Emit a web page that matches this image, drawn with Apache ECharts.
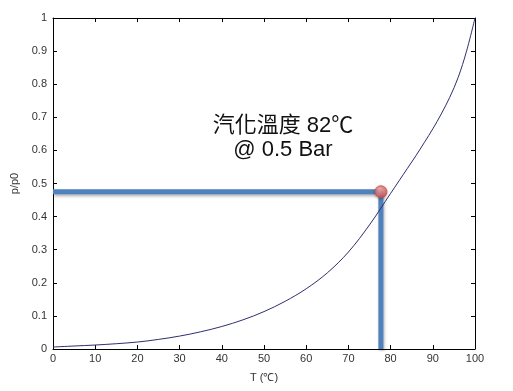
<!DOCTYPE html>
<html><head><meta charset="utf-8">
<script src="https://cdn.jsdelivr.net/npm/echarts@6/dist/echarts.min.js"></script>
<style>html,body{margin:0;padding:0;background:#fff}#c{width:513px;height:391px}</style>
</head><body><div id="c"></div>
<script>
const temps = [0, 5, 10, 15, 20, 25, 30, 35, 40, 45, 50, 55, 60, 65, 70, 75, 80, 82, 84, 86, 88, 90, 92, 94, 96, 98, 100];
const ratio = [0.006, 0.009, 0.012, 0.016, 0.021, 0.029, 0.039, 0.052, 0.068, 0.088, 0.113, 0.144, 0.182, 0.23, 0.293, 0.375, 0.47, 0.508, 0.546, 0.584, 0.624, 0.665, 0.71, 0.76, 0.82, 0.9, 1.0];
const markT = 77.7;
const markP = 0.475;
const labelT = 54.5;
const labelP = 0.637;
const xTicks = [0, 10, 20, 30, 40, 50, 60, 70, 80, 90, 100];
const yTicks = [0, 0.1, 0.2, 0.3, 0.4, 0.5, 0.6, 0.7, 0.8, 0.9, 1];
const titleLine1 = '汽化溫度 82℃';
const titleLine2 = '@ 0.5 Bar';

const chart = echarts.init(document.getElementById('c'));
const font = 'Arial, "Liberation Sans", sans-serif';
const axisCommon = {
  type: 'value', min: 0,
  splitLine: {show: false},
  axisLine: {show: true, onZero: false, lineStyle: {color: '#000', width: 1}},
  axisTick: {show: true, inside: true, length: 4, lineStyle: {color: '#000'}},
};
chart.setOption({
  animation: false,
  grid: {left: 53, right: 38, top: 18, bottom: 42},
  xAxis: [
    Object.assign({}, axisCommon, {max: 100, interval: 10, position: 'bottom',
      name: 'T (℃)', nameLocation: 'middle', nameGap: 23,
      nameTextStyle: {fontFamily: font, fontSize: 11, color: '#333'},
      axisLabel: {fontFamily: font, fontSize: 11, color: '#333', margin: 4,
        formatter: v => xTicks.includes(v) ? String(v) : ''}}),
    Object.assign({}, axisCommon, {max: 100, interval: 10, position: 'top', axisLabel: {show: false}})
  ],
  yAxis: [
    Object.assign({}, axisCommon, {max: 1, interval: 0.1, position: 'left',
      name: 'p/p0', nameLocation: 'middle', nameGap: 28, nameRotate: 90,
      nameTextStyle: {fontFamily: font, fontSize: 11, color: '#333'},
      axisLabel: {fontFamily: font, fontSize: 11, color: '#333', margin: 6,
        formatter: v => { const r = Math.round(v * 10) / 10; return yTicks.includes(r) ? String(r) : ''; }}}),
    Object.assign({}, axisCommon, {max: 1, interval: 0.1, position: 'right', axisLabel: {show: false}})
  ],
  series: [
    {type: 'line', data: temps.map((t, i) => [t, ratio[i]]), smooth: 0.35, symbol: 'none',
     lineStyle: {color: '#2e2e6e', width: 1}, z: 3},
    {type: 'line', data: [[0, markP], [markT, markP], [markT, 0]], symbol: 'none',
     lineStyle: {color: '#4f81bd', width: 5, shadowColor: 'rgba(0,0,0,0.3)', shadowBlur: 3, shadowOffsetX: 1, shadowOffsetY: 2}, z: 2,
     markPoint: {symbol: 'circle', symbolSize: 0, data: [{coord: [labelT, labelP], label: {show: true, formatter: titleLine1 + '\n' + titleLine2,
       fontFamily: 'Arial, "Liberation Sans", "Noto Sans CJK TC", sans-serif', fontSize: 22, color: '#111', lineHeight: 24, align: 'center'}}]}},
    {type: 'scatter', data: [[markT, markP]], symbolSize: 12, z: 5,
     itemStyle: {color: new echarts.graphic.RadialGradient(0.4, 0.35, 0.7, [{offset: 0, color: '#ffb0b0'}, {offset: 1, color: '#d63c3c'}]),
       borderColor: '#c0504d', borderWidth: 1, shadowColor: 'rgba(0,0,0,0.3)', shadowBlur: 3, shadowOffsetY: 1}}
  ]
});
</script></body></html>
